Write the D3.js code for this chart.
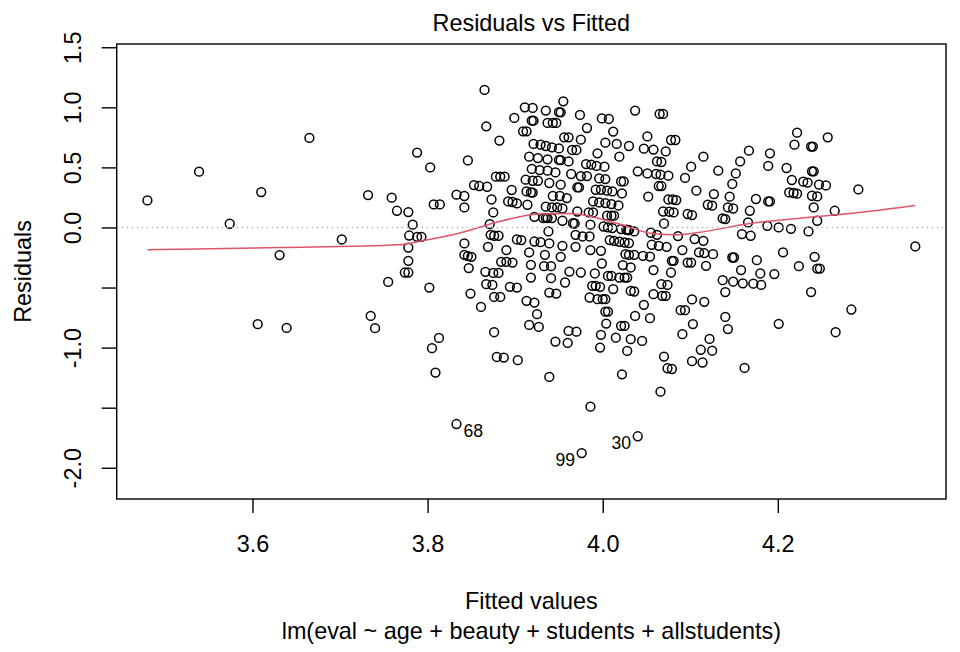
<!DOCTYPE html>
<html>
<head>
<meta charset="utf-8">
<script src="https://cdn.jsdelivr.net/npm/d3@7"></script>
<style>
  body { margin: 0; background: #fff; }
  svg { display: block; }
  text { font-family: "Liberation Sans", Arial, sans-serif; fill: #000; }
</style>
</head>
<body>
<div class="vis-resid"></div>
<script>
// fitted values and residuals (same order in both arrays)
const fitted = [
  3.480, 3.539, 3.574, 3.610, 3.631, 3.665, 3.702, 3.732, 3.759, 3.765, 3.755, 3.606, 3.639, 3.735, 3.740,
  3.865, 3.899, 3.867, 3.882, 3.788, 3.803, 3.846, 3.878, 3.883, 3.888,
  3.853, 3.859, 3.868, 3.896, 3.833, 3.842, 3.873, 3.807, 3.814, 3.892,
  3.897, 3.902, 3.778, 3.842, 3.875, 3.783, 3.871, 3.779, 3.788, 3.793,
  3.872, 3.876, 3.881, 3.902, 3.842, 3.778, 3.869, 3.890, 3.842, 3.846,
  3.850, 3.778, 3.884, 3.890, 3.897, 3.847, 3.774, 3.778, 3.866, 3.875, 3.881,
  3.802, 3.849, 3.867, 3.874, 3.894, 3.902, 3.861, 3.876, 3.883, 3.876,
  3.813, 3.805, 3.879, 3.887, 3.903, 3.809, 3.833,
  3.955, 3.911, 3.920, 3.935, 3.952, 3.950, 3.974, 3.999, 4.007, 4.037,
  4.065, 4.069, 3.919, 3.921, 3.937, 3.943, 3.947, 3.982, 3.909, 3.913,
  4.012, 4.051, 3.956, 3.961, 3.975, 4.078, 4.083, 3.921, 3.929, 3.935,
  3.942, 3.950, 4.003, 4.016, 4.030, 4.047, 4.058, 4.072, 3.965, 3.970,
  3.994, 4.019, 3.916, 3.926, 3.937, 3.950, 3.952, 3.961, 3.981, 3.987,
  3.993, 4.002, 4.062, 4.067, 3.919, 3.928, 3.937, 3.946, 3.964, 3.975,
  3.982, 4.040, 4.051, 4.061, 4.066, 4.075, 4.094, 3.912, 3.920, 3.926,
  3.939, 3.952, 3.996, 4.003, 4.021, 4.024, 3.971, 3.973, 4.064, 4.067,
  3.913, 3.918, 3.920, 3.943, 3.951, 3.959, 3.992, 3.998, 4.005, 4.011,
  4.022, 4.052, 4.075, 4.080, 4.084, 3.914, 3.935, 3.942, 3.948, 3.954,
  3.989, 3.996, 4.003, 4.010, 4.018, 3.971, 3.984, 3.989, 4.069, 4.076,
  4.081, 4.097, 3.922, 3.932, 3.935, 3.937, 3.942, 3.954, 3.968, 3.966,
  4.005, 4.010, 4.013, 3.986, 4.070, 4.001, 4.006, 4.011, 4.021, 4.027,
  4.029, 4.030, 4.036, 3.938, 3.969, 3.977, 3.985, 4.055, 4.062, 4.086,
  3.907, 3.922, 3.929, 3.939, 3.954, 3.969, 4.008, 4.013, 4.019, 4.025,
  4.030, 4.056, 4.064, 4.073, 4.091, 3.916, 3.934, 3.952, 3.986, 3.998,
  4.026, 4.030, 4.036, 4.046, 4.054, 4.079, 4.081, 4.097, 3.918, 3.933,
  3.941, 3.999, 4.023, 4.032, 3.962, 3.975, 3.991, 4.006, 4.010, 4.019,
  4.025, 4.028, 4.058, 4.078, 3.918, 3.941,
  3.957, 3.988, 3.992, 3.997, 4.012, 4.032, 4.036, 4.067, 4.074, 3.939,
  3.947, 3.913, 3.922, 3.985, 3.994, 4.000, 4.003, 4.058, 4.068, 4.072,
  3.925, 4.003, 4.006, 4.047, 4.037, 4.054, 4.089, 4.094, 3.916, 3.927,
  4.004, 4.021, 4.025, 3.961, 3.970, 3.998, 4.015, 4.032, 4.045, 4.091,
  3.946, 3.960, 3.997, 4.028, 4.070, 4.074, 4.079, 3.939, 4.022, 4.066,
  3.986, 4.040, 3.976,
  4.222, 4.257, 4.219, 4.238, 4.240, 4.167, 4.191, 4.115, 4.157, 4.189,
  4.101, 4.210, 4.132, 4.152, 4.239, 4.241, 4.216, 4.229, 4.234, 4.247,
  4.255, 4.148, 4.292, 4.107, 4.127, 4.213, 4.218, 4.222, 4.239, 4.245,
  4.145, 4.175, 4.189, 4.191, 4.120, 4.125, 4.143, 4.149, 4.168, 4.241,
  4.265, 4.102, 4.137, 4.140, 4.166, 4.245, 4.188, 4.201, 4.215, 4.235,
  4.159, 4.169, 4.105, 4.115, 4.110, 4.116, 4.126, 4.148, 4.150, 4.176,
  4.206, 4.242, 4.101, 4.118, 4.158, 4.224, 4.245, 4.248, 4.180, 4.196,
  4.357, 4.137, 4.149, 4.160, 4.172, 4.181, 4.140, 4.238, 4.102, 4.116,
  4.284, 4.140, 4.103, 4.201, 4.143, 4.266, 4.122, 4.112, 4.125, 4.102,
  4.114, 4.162
];
const residuals = [
  0.225, 0.464, 0.031, 0.295, -0.230, 0.745, -0.100, 0.270, 0.248, 0.139, -0.453, -0.805, -0.836, -0.736, -0.838,
  1.145, 0.912, 0.842, 0.723, 0.623, 0.500, 0.558, 0.423, 0.423, 0.423,
  0.353, 0.345, 0.339, 0.312, 0.273, 0.262, 0.233, 0.192, 0.192, 0.217,
  0.212, 0.200, 0.128, 0.167, 0.125, 0.023, 0.028, -0.067, -0.078, -0.078,
  -0.061, -0.069, -0.069, -0.100, -0.133, -0.167, -0.161, -0.188, -0.228, -0.238,
  -0.244, -0.278, -0.286, -0.286, -0.292, -0.338, -0.375, -0.375, -0.369, -0.378, -0.378,
  -0.500, -0.550, -0.472, -0.478, -0.494, -0.500, -0.661, -0.578, -0.578, -0.872,
  -0.919, -1.005, -1.078, -1.083, -1.105, -1.208, -1.636,
  1.050, 1.000, 0.995, 0.973, 0.958, 0.960, 0.937, 0.908, 0.903, 0.973,
  0.945, 0.945, 0.889, 0.889, 0.870, 0.870, 0.870, 0.828, 0.800, 0.800,
  0.798, 0.758, 0.750, 0.750, 0.731, 0.728, 0.728, 0.695, 0.689, 0.678,
  0.667, 0.658, 0.706, 0.695, 0.678, 0.656, 0.648, 0.633, 0.645, 0.645,
  0.617, 0.589, 0.589, 0.578, 0.567, 0.562, 0.560, 0.550, 0.528, 0.523,
  0.512, 0.506, 0.550, 0.545, 0.487, 0.478, 0.473, 0.458, 0.445, 0.428,
  0.428, 0.467, 0.450, 0.445, 0.439, 0.431, 0.412, 0.398, 0.389, 0.389,
  0.370, 0.356, 0.408, 0.403, 0.383, 0.383, 0.333, 0.333, 0.345, 0.345,
  0.300, 0.292, 0.290, 0.262, 0.262, 0.245, 0.314, 0.314, 0.306, 0.300,
  0.283, 0.256, 0.233, 0.233, 0.228, 0.189, 0.173, 0.167, 0.167, 0.158,
  0.217, 0.208, 0.203, 0.195, 0.183, 0.133, 0.125, 0.125, 0.133, 0.131,
  0.125, 0.112, 0.089, 0.078, 0.080, 0.078, 0.078, 0.056, 0.033, 0.035,
  0.098, 0.098, 0.098, 0.023, 0.033, 0.008, 0.000, -0.005, -0.013, -0.019,
  -0.021, -0.022, -0.033, -0.033, -0.061, -0.075, -0.075, -0.044, -0.061, -0.072,
  -0.105, -0.117, -0.122, -0.133, -0.153, -0.161, -0.105, -0.111, -0.119, -0.125,
  -0.130, -0.144, -0.153, -0.161, -0.188, -0.208, -0.228, -0.244, -0.188, -0.194,
  -0.222, -0.228, -0.228, -0.236, -0.242, -0.278, -0.278, -0.292, -0.311, -0.322,
  -0.322, -0.300, -0.313, -0.333, -0.367, -0.375, -0.383, -0.403, -0.403, -0.417,
  -0.417, -0.417, -0.355, -0.375, -0.417, -0.422,
  -0.458, -0.486, -0.486, -0.494, -0.513, -0.528, -0.533, -0.472, -0.478, -0.542,
  -0.550, -0.611, -0.625, -0.583, -0.597, -0.597, -0.597, -0.555, -0.569, -0.569,
  -0.722, -0.700, -0.700, -0.644, -0.736, -0.755, -0.688, -0.688, -0.811, -0.828,
  -0.800, -0.819, -0.819, -0.861, -0.867, -0.894, -0.917, -0.930, -0.944, -0.888,
  -0.950, -0.961, -1.000, -1.028, -1.075, -1.172, -1.178, -1.244, -1.222, -1.367,
  -1.492, -1.738, -1.878,
  0.789, 0.750, 0.689, 0.673, 0.673, 0.639, 0.617, 0.589, 0.550, 0.512,
  0.506, 0.495, 0.473, 0.450, 0.467, 0.467, 0.395, 0.381, 0.373, 0.356,
  0.350, 0.362, 0.317, 0.306, 0.278, 0.292, 0.287, 0.281, 0.264, 0.258,
  0.256, 0.237, 0.217, 0.217, 0.189, 0.181, 0.167, 0.158, 0.139, 0.167,
  0.139, 0.103, 0.075, 0.070, 0.042, 0.056, 0.014, 0.000, -0.011, -0.033,
  -0.055, -0.069, -0.097, -0.111, -0.208, -0.213, -0.222, -0.250, -0.250, -0.272,
  -0.208, -0.244, -0.292, -0.319, -0.355, -0.322, -0.342, -0.342, -0.383, -0.388,
  -0.158, -0.439, -0.451, -0.465, -0.468, -0.478, -0.538, -0.538, -0.599, -0.619,
  -0.683, -0.745, -0.804, -0.802, -0.846, -0.872, -0.928, -1.018, -1.026, -1.113,
  -1.124, -1.169
];

// red smoother
const smoothFit = [3.480, 3.631, 3.767, 3.794, 3.839, 3.878, 3.927, 3.961, 4.018, 4.056, 4.083, 4.109, 4.166, 4.234, 4.303, 4.357];
const smoothRes = [-0.186, -0.167, -0.144, -0.111, -0.042, 0.042, 0.112, 0.117, 0.031, -0.050, -0.061, -0.042, 0.031, 0.083, 0.133, 0.183];

const xTicks = [3.6, 3.8, 4.0, 4.2];
const xTickLabels = ["3.6", "3.8", "4.0", "4.2"];
const yTicks = [-2, -1.5, -1, -0.5, 0, 0.5, 1, 1.5];
const yTickLabels = ["-2.0", "", "-1.0", "", "0.0", "0.5", "1.0", "1.5"];
// observation numbers of the three largest |residuals|, largest first
const idLabels = ["99", "30", "68"];

const width = 960;
const height = 652;
const margin = { top: 44, right: 14, bottom: 153, left: 116.7 };
const w = width - margin.left - margin.right;
const h = height - margin.top - margin.bottom;
const fs = 23.4;

// R style limits: 4% padding, residual range widened by 8% first
const [xMin, xMax] = d3.extent(fitted);
const xPad = 0.04 * (xMax - xMin);
const [rMin, rMax] = d3.extent(residuals);
const yLo = rMin - 0.08 * (rMax - rMin);
const yHi = rMax + 0.08 * (rMax - rMin);
const yPad = 0.04 * (yHi - yLo);

const xScale = d3.scaleLinear().domain([xMin - xPad, xMax + xPad]).range([0, w]);
const yScale = d3.scaleLinear().domain([yLo - yPad, yHi + yPad]).range([h, 0]);

const svg = d3
  .select(".vis-resid")
  .append("svg")
  .attr("width", width)
  .attr("height", height);

svg.append("defs")
  .append("clipPath")
  .attr("id", "plotclip")
  .append("rect")
  .attr("width", w)
  .attr("height", h);

const g = svg
  .append("g")
  .attr("transform", `translate(${margin.left},${margin.top})`);

const plot = g.append("g").attr("clip-path", "url(#plotclip)");

// points
plot
  .append("g")
  .selectAll("circle")
  .data(fitted)
  .enter()
  .append("circle")
  .attr("cx", (d) => xScale(d))
  .attr("cy", (d, i) => yScale(residuals[i]))
  .attr("r", 4.4)
  .attr("fill", "none")
  .attr("stroke", "#000")
  .attr("stroke-width", 1.5);

// smoother
const line = d3
  .line()
  .x((d) => xScale(d))
  .y((d, i) => yScale(smoothRes[i]))
  .curve(d3.curveMonotoneX);

plot
  .append("path")
  .datum(smoothFit)
  .attr("d", line)
  .attr("fill", "none")
  .attr("stroke", "#DF536B")
  .attr("stroke-width", 1.5);

// zero line
plot
  .append("line")
  .attr("x1", 0)
  .attr("x2", w)
  .attr("y1", yScale(0))
  .attr("y2", yScale(0))
  .attr("stroke", "#B4B4B4")
  .attr("stroke-width", 1.5)
  .attr("stroke-dasharray", "1.5,3.5");

// ids of the largest residuals
const top3 = d3
  .range(residuals.length)
  .sort((a, b) => Math.abs(residuals[b]) - Math.abs(residuals[a]))
  .slice(0, 3);
const xMid = d3.mean(xScale.domain());

g.append("g")
  .selectAll("text")
  .data(top3)
  .enter()
  .append("text")
  .attr("x", (i) => (fitted[i] > xMid ? xScale(fitted[i]) - 6.7 : xScale(fitted[i]) + 7))
  .attr("y", (i) => yScale(residuals[i]) + 13)
  .attr("text-anchor", (i) => (fitted[i] > xMid ? "end" : "start"))
  .style("font-size", "17.6px")
  .text((i, k) => idLabels[k]);

// axes
const xAxis = g
  .append("g")
  .attr("transform", `translate(0,${h})`)
  .call(
    d3.axisBottom(xScale)
      .tickValues(xTicks)
      .tickSize(14)
      .tickFormat((d, i) => xTickLabels[i])
  );
xAxis.select(".domain").remove();
xAxis.selectAll(".tick line").attr("stroke", "#000").attr("stroke-width", 1.4);
xAxis
  .selectAll(".tick text")
  .attr("y", 53)
  .attr("dy", null)
  .style("font-size", fs + "px")
  .attr("fill", "#000");

const yAxis = g.append("g").call(
  d3.axisLeft(yScale)
    .tickValues(yTicks)
    .tickSize(15)
    .tickFormat((d, i) => yTickLabels[i])
);
yAxis.select(".domain").remove();
yAxis.selectAll(".tick line").attr("stroke", "#000").attr("stroke-width", 1.4);
yAxis
  .selectAll(".tick text")
  .attr("x", null)
  .attr("dy", null)
  .attr("transform", "translate(-36,0) rotate(-90)")
  .attr("text-anchor", "middle")
  .style("font-size", fs + "px")
  .attr("fill", "#000");

// frame
g.append("rect")
  .attr("width", w)
  .attr("height", h)
  .attr("fill", "none")
  .attr("stroke", "#000")
  .attr("stroke-width", 1.4);

// titles
svg.append("text")
  .attr("x", margin.left + w / 2)
  .attr("y", 31)
  .attr("text-anchor", "middle")
  .style("font-size", fs + "px")
  .text("Residuals vs Fitted");

svg.append("text")
  .attr("x", margin.left + w / 2)
  .attr("y", 609)
  .attr("text-anchor", "middle")
  .style("font-size", fs + "px")
  .text("Fitted values");

svg.append("text")
  .attr("x", margin.left + w / 2)
  .attr("y", 639)
  .attr("text-anchor", "middle")
  .style("font-size", fs + "px")
  .text("lm(eval ~ age + beauty + students + allstudents)");

svg.append("text")
  .attr("transform", `translate(31,${margin.top + h / 2}) rotate(-90)`)
  .attr("text-anchor", "middle")
  .style("font-size", fs + "px")
  .text("Residuals");
</script>
</body>
</html>
